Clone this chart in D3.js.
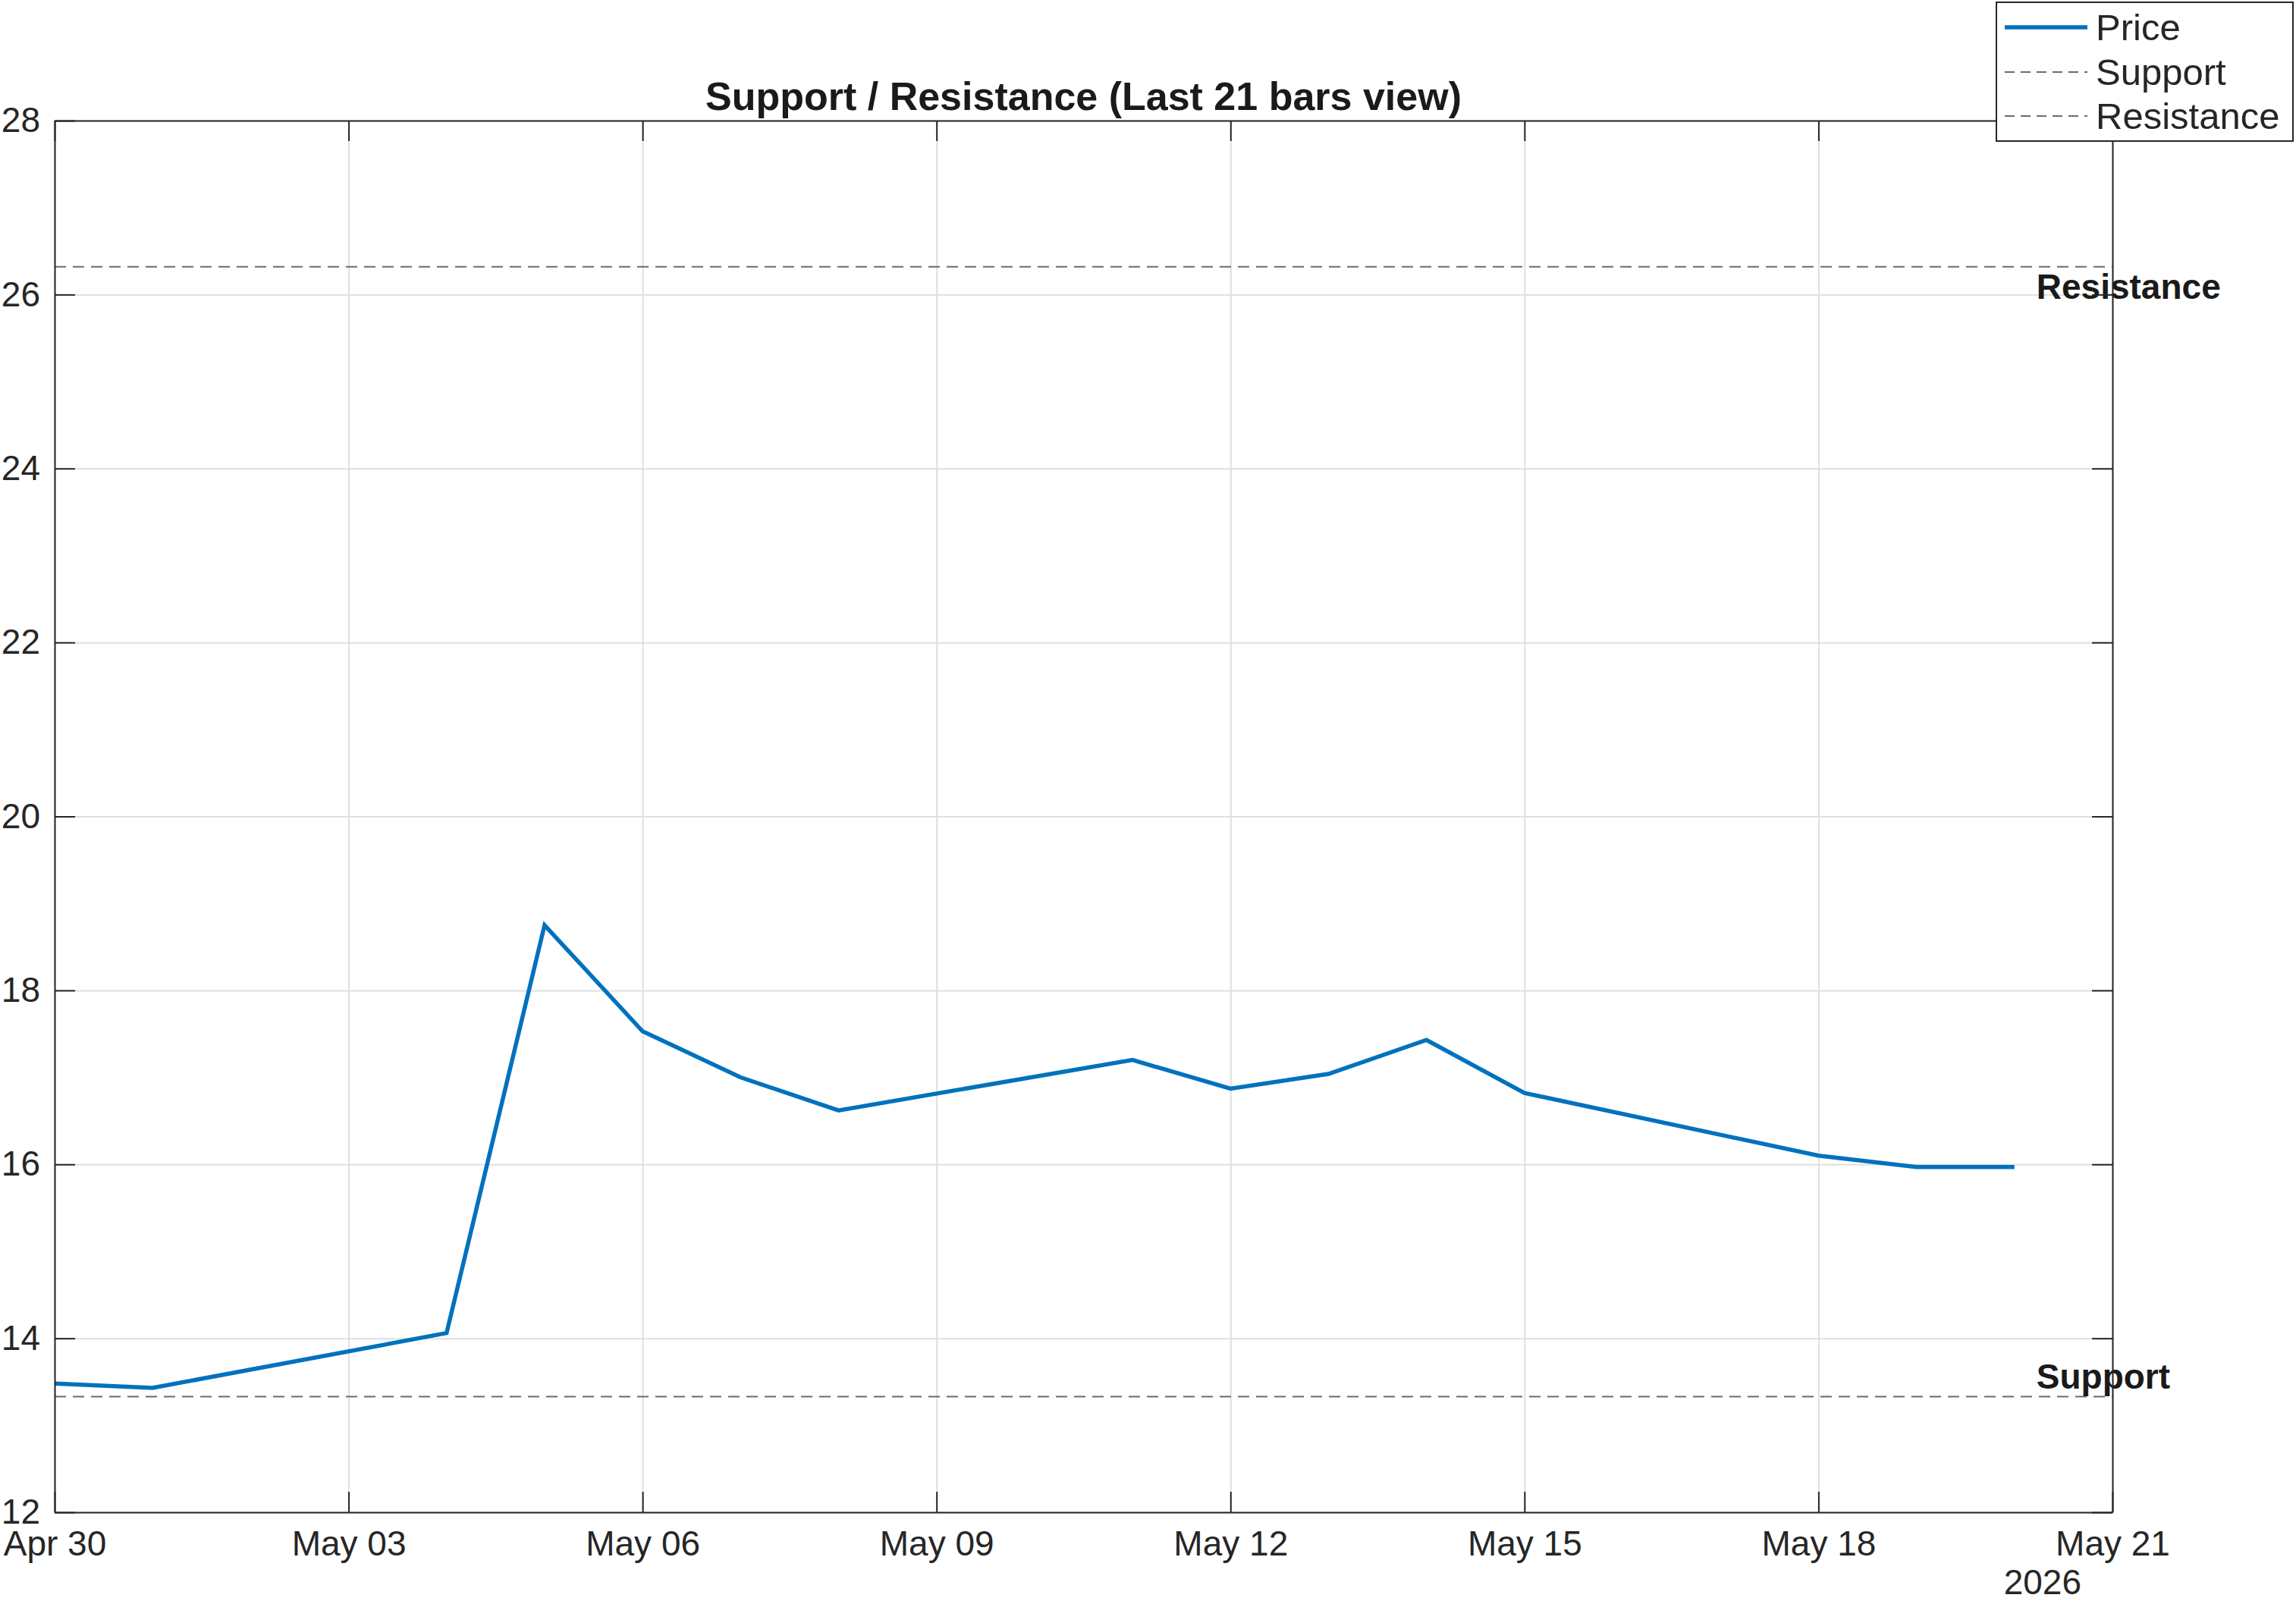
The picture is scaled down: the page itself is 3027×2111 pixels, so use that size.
<!DOCTYPE html>
<html>
<head>
<meta charset="utf-8">
<script src="https://cdn.jsdelivr.net/npm/d3@7"></script>
<style>
    body { margin: 0; background: white; }
    svg { display: block; font-family: "Liberation Sans", Arial, Helvetica, sans-serif; }
</style>
</head>
<body>
<svg width="3027" height="2111"></svg>
<script>
// data
let dates = ["2026-04-30", "2026-05-01", "2026-05-04", "2026-05-05", "2026-05-06",
    "2026-05-07", "2026-05-08", "2026-05-11", "2026-05-12", "2026-05-13",
    "2026-05-14", "2026-05-15", "2026-05-18", "2026-05-19", "2026-05-20"];
let prices = [13.48, 13.43, 14.06, 18.75, 17.53, 17.00, 16.62, 17.20, 16.87, 17.04,
    17.43, 16.82, 16.10, 15.97, 15.97];
let supportLevel = 13.33;
let resistanceLevel = 26.32;
let xDomain = ["2026-04-30", "2026-05-21"];
let xTicks = ["2026-04-30", "2026-05-03", "2026-05-06", "2026-05-09", "2026-05-12",
    "2026-05-15", "2026-05-18", "2026-05-21"];
let yTicks = [12, 14, 16, 18, 20, 22, 24, 26, 28];
let yDomain = [12, 28];
let yearLabel = "2026";
let titleText = "Support / Resistance (Last 21 bars view)";
let legendNames = ["Price", "Support", "Resistance"];

// styles
let priceColor = "#0072BD";
let levelColor = "#6b6b6b";
let axisColor = "#262626";
let gridColor = "#dfdfdf";
let font = "46px";

const parse = d3.utcParse("%Y-%m-%d");

let plotLeft = 72, plotRight = 2785, plotTop = 159, plotBottom = 1994;

let xScale = d3.scaleUtc()
    .domain(xDomain.map(parse))
    .range([plotLeft, plotRight]);

let yScale = d3.scaleLinear()
    .domain(yDomain)
    .range([plotBottom, plotTop]);

const svg = d3.select("svg");

const drawGrid = () => {
    svg.append("g")
        .attr("transform", `translate(0, ${plotBottom})`)
        .call(d3.axisBottom(xScale).tickValues(xTicks.map(parse)).tickSize(-(plotBottom - plotTop)).tickFormat(""))
        .call(g => g.select(".domain").remove())
        .selectAll("line").attr("stroke", gridColor).attr("stroke-width", 2);

    svg.append("g")
        .attr("transform", `translate(${plotLeft}, 0)`)
        .call(d3.axisLeft(yScale).tickValues(yTicks).tickSize(-(plotRight - plotLeft)).tickFormat(""))
        .call(g => g.select(".domain").remove())
        .selectAll("line").attr("stroke", gridColor).attr("stroke-width", 2);
};

const styleAxis = (g) => {
    g.select(".domain").attr("stroke", axisColor).attr("stroke-width", 2);
    g.selectAll(".tick line").attr("stroke", axisColor).attr("stroke-width", 2);
    g.selectAll("text").attr("fill", axisColor).style("font-size", font)
        .style("font-family", "Liberation Sans, Arial, sans-serif");
};

const drawAxes = () => {
    let xAxis = d3.axisBottom(xScale)
        .tickValues(xTicks.map(parse))
        .tickFormat(d3.utcFormat("%b %d"))
        .tickSizeInner(-27).tickSizeOuter(0).tickPadding(24);
    let xTop = d3.axisTop(xScale)
        .tickValues(xTicks.map(parse))
        .tickFormat("").tickSizeInner(-27).tickSizeOuter(0);
    let yAxis = d3.axisLeft(yScale)
        .tickValues(yTicks)
        .tickSizeInner(-27).tickSizeOuter(0).tickPadding(19);
    let yRight = d3.axisRight(yScale)
        .tickValues(yTicks)
        .tickFormat("").tickSizeInner(-27).tickSizeOuter(0);

    svg.append("g").attr("transform", `translate(0, ${plotBottom})`).call(xAxis).call(styleAxis);
    svg.append("g").attr("transform", `translate(0, ${plotTop})`).call(xTop).call(styleAxis);
    svg.append("g").attr("transform", `translate(${plotLeft}, 0)`).call(yAxis).call(styleAxis);
    svg.append("g").attr("transform", `translate(${plotRight}, 0)`).call(yRight).call(styleAxis);

    svg.append("text")
        .attr("x", plotRight - 41)
        .attr("y", 2102)
        .attr("text-anchor", "end")
        .attr("fill", axisColor)
        .style("font-size", font)
        .text(yearLabel);

    svg.append("text")
        .attr("x", (plotLeft + plotRight) / 2)
        .attr("y", 145)
        .attr("text-anchor", "middle")
        .attr("fill", "#1a1a1a")
        .style("font-size", "52px")
        .style("font-weight", "bold")
        .text(titleText);
};

const drawLevels = () => {
    [supportLevel, resistanceLevel].forEach(v => {
        svg.append("line")
            .attr("x1", plotLeft).attr("x2", plotRight)
            .attr("y1", yScale(v)).attr("y2", yScale(v))
            .attr("stroke", levelColor).attr("stroke-width", 2)
            .attr("stroke-dasharray", "15 9");
    });

    let lastX = xScale(parse(dates[dates.length - 1])) + 29;

    svg.append("text")
        .attr("x", lastX)
        .attr("y", yScale(resistanceLevel) + 42)
        .attr("fill", "#1a1a1a")
        .style("font-size", font)
        .style("font-weight", "bold")
        .text("Resistance");

    svg.append("text")
        .attr("x", lastX)
        .attr("y", yScale(supportLevel) - 10)
        .attr("fill", "#1a1a1a")
        .style("font-size", font)
        .style("font-weight", "bold")
        .text("Support");
};

const drawPrice = () => {
    let line = d3.line()
        .x((d, i) => xScale(parse(dates[i])))
        .y(d => yScale(d));

    svg.append("path")
        .datum(prices)
        .attr("d", line)
        .attr("fill", "none")
        .attr("stroke", priceColor)
        .attr("stroke-width", 5.5);
};

const drawLegend = () => {
    svg.append("rect")
        .attr("x", 2632).attr("y", 3)
        .attr("width", 391).attr("height", 183)
        .attr("fill", "white")
        .attr("stroke", axisColor).attr("stroke-width", 2);

    let rows = [36, 95, 153];
    legendNames.forEach((name, i) => {
        let l = svg.append("line")
            .attr("x1", 2643).attr("x2", 2752)
            .attr("y1", rows[i]).attr("y2", rows[i]);
        if (i == 0)
            l.attr("stroke", priceColor).attr("stroke-width", 5.5);
        else
            l.attr("stroke", levelColor).attr("stroke-width", 2).attr("stroke-dasharray", "13 8");

        svg.append("text")
            .attr("x", 2763)
            .attr("y", rows[i])
            .attr("dy", "0.35em")
            .attr("fill", axisColor)
            .style("font-size", "49px")
            .text(name);
    });
};

drawGrid();
drawLevels();
drawPrice();
drawAxes();
drawLegend();
</script>
</body>
</html>
